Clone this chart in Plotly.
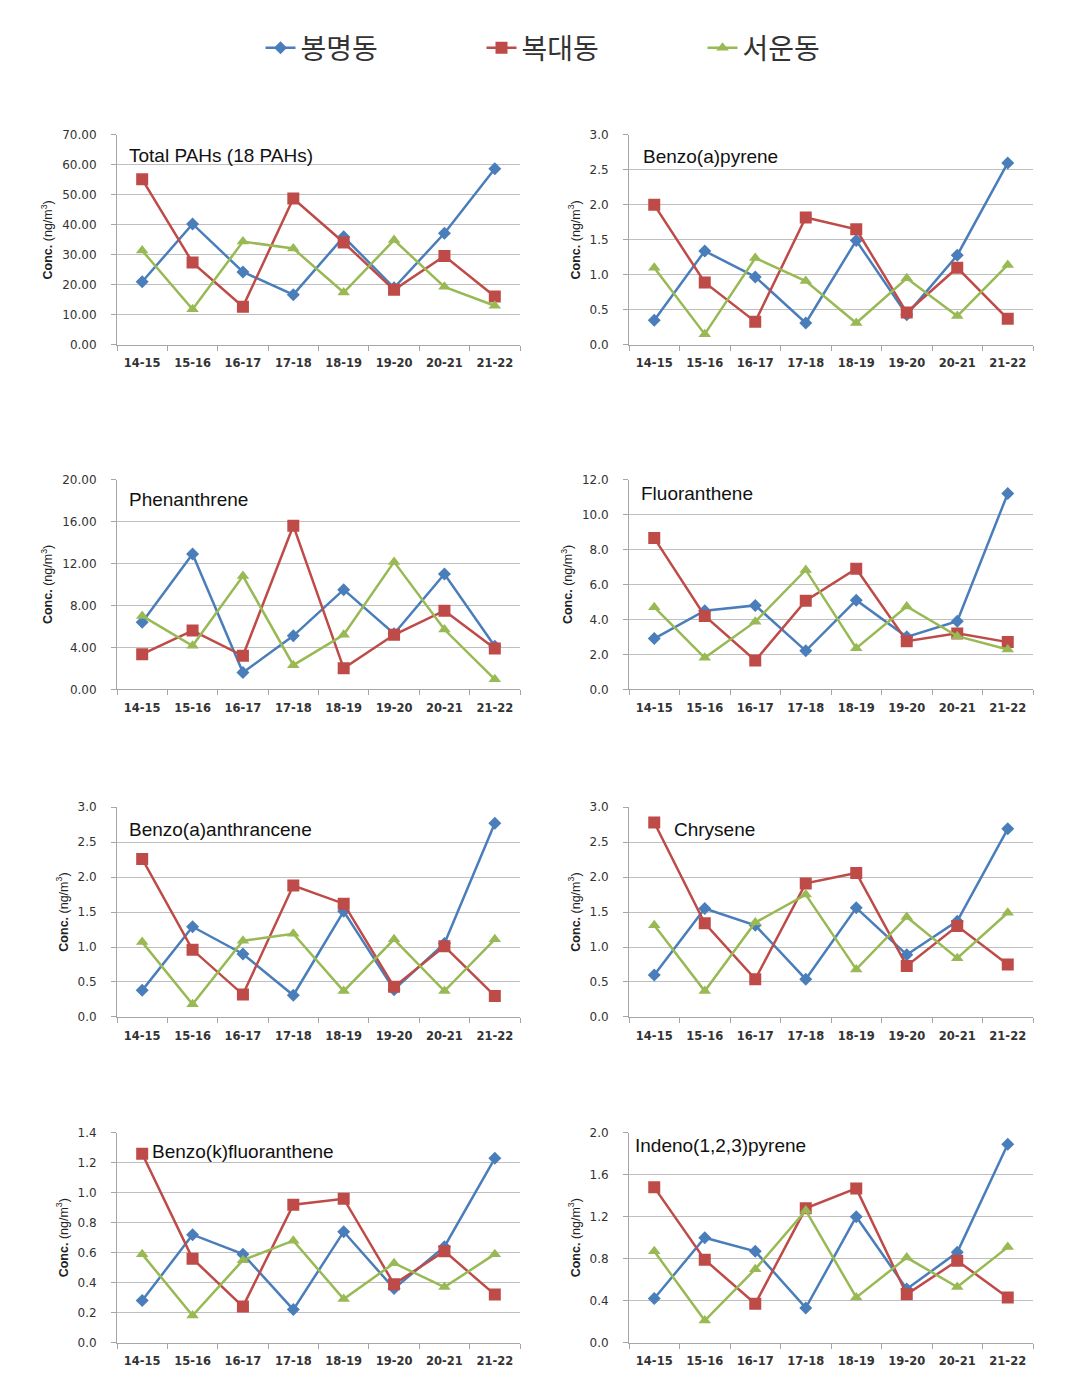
import plotly.graph_objects as go

categories = ["14-15", "15-16", "16-17", "17-18", "18-19", "19-20", "20-21", "21-22"]
sites = ["봉명동", "복대동", "서운동"]

# Total PAHs (18 PAHs)
total_bongmyeong = [21.0, 40.3, 24.3, 16.7, 36.0, 19.0, 37.2, 58.7]
total_bokdae = [55.2, 27.4, 12.7, 48.8, 34.1, 18.3, 29.6, 16.1]
total_seoun = [31.4, 11.8, 34.4, 32.1, 17.4, 34.9, 19.3, 13.0]

# Benzo(a)pyrene
bap_bongmyeong = [0.35, 1.34, 0.97, 0.31, 1.49, 0.43, 1.28, 2.60]
bap_bokdae = [2.00, 0.89, 0.33, 1.82, 1.65, 0.46, 1.10, 0.37]
bap_seoun = [1.10, 0.15, 1.24, 0.91, 0.31, 0.95, 0.41, 1.14]

# Phenanthrene
phe_bongmyeong = [6.4, 12.9, 1.6, 5.1, 9.5, 5.3, 11.0, 4.1]
phe_bokdae = [3.35, 5.6, 3.2, 15.6, 2.0, 5.2, 7.5, 3.9]
phe_seoun = [7.0, 4.15, 10.8, 2.3, 5.2, 12.15, 5.7, 0.95]

# Fluoranthene
flu_bongmyeong = [2.9, 4.5, 4.8, 2.2, 5.1, 3.0, 3.9, 11.2]
flu_bokdae = [8.65, 4.2, 1.65, 5.07, 6.9, 2.75, 3.2, 2.7]
flu_seoun = [4.7, 1.8, 3.87, 6.83, 2.35, 4.74, 3.04, 2.28]

# Benzo(a)anthrancene
baa_bongmyeong = [0.38, 1.29, 0.90, 0.31, 1.51, 0.39, 1.05, 2.77]
baa_bokdae = [2.26, 0.96, 0.32, 1.88, 1.62, 0.43, 1.01, 0.30]
baa_seoun = [1.07, 0.18, 1.09, 1.19, 0.37, 1.11, 0.37, 1.11]

# Chrysene
chr_bongmyeong = [0.60, 1.55, 1.31, 0.54, 1.56, 0.89, 1.37, 2.69]
chr_bokdae = [2.78, 1.34, 0.54, 1.91, 2.06, 0.73, 1.30, 0.75]
chr_seoun = [1.31, 0.37, 1.35, 1.75, 0.68, 1.43, 0.84, 1.49]

# Benzo(k)fluoranthene
bkf_bongmyeong = [0.28, 0.72, 0.59, 0.22, 0.74, 0.36, 0.64, 1.23]
bkf_bokdae = [1.26, 0.56, 0.24, 0.92, 0.96, 0.39, 0.61, 0.32]
bkf_seoun = [0.59, 0.18, 0.55, 0.68, 0.29, 0.53, 0.37, 0.59]

# Indeno(1,2,3)pyrene
ind_bongmyeong = [0.42, 1.00, 0.87, 0.33, 1.20, 0.51, 0.86, 1.89]
ind_bokdae = [1.48, 0.79, 0.37, 1.28, 1.47, 0.46, 0.78, 0.43]
ind_seoun = [0.87, 0.21, 0.70, 1.26, 0.43, 0.81, 0.53, 0.91]

panel_titles = ["Total PAHs (18 PAHs)", "Benzo(a)pyrene", "Phenanthrene", "Fluoranthene",
                "Benzo(a)anthrancene", "Chrysene", "Benzo(k)fluoranthene", "Indeno(1,2,3)pyrene"]
y_max = [70, 3.0, 20, 12, 3.0, 3.0, 1.4, 2.0]
y_step = [10, 0.5, 4, 2, 0.5, 0.5, 0.2, 0.4]
y_format = [".2f", ".1f", ".2f", ".1f", ".1f", ".1f", ".1f", ".1f"]

panels = [
    (total_bongmyeong, total_bokdae, total_seoun),
    (bap_bongmyeong, bap_bokdae, bap_seoun),
    (phe_bongmyeong, phe_bokdae, phe_seoun),
    (flu_bongmyeong, flu_bokdae, flu_seoun),
    (baa_bongmyeong, baa_bokdae, baa_seoun),
    (chr_bongmyeong, chr_bokdae, chr_seoun),
    (bkf_bongmyeong, bkf_bokdae, bkf_seoun),
    (ind_bongmyeong, ind_bokdae, ind_seoun),
]

PAGE_W, PAGE_H = 1068, 1399
OFF = 8  # default body margin of the html page
W, H = PAGE_W - 2 * OFF, PAGE_H - 2 * OFF

def px_x(p):
    return (p - OFF) / W

def px_y(p):
    p = (p - 3) / 0.991  # small vertical correction observed in rendering
    return 1 - (p - OFF) / H

colors = ["#4A7EBB", "#BE4B48", "#98B954"]
symbols = ["diamond", "square", "triangle-up"]
msizes = [10, 12, 11]

col_px = [(117, 520), (629, 1033)]
row_px = [(131, 341), (476, 686), (804, 1014), (1130, 1340)]
title_pos = [(0.025, 0.90), (0.03, 0.895), (0.025, 0.905), (0.025, 0.933),
             (0.025, 0.895), (0.106, 0.895), (0.082, 0.91), (0.01, 0.938)]

fig = go.Figure()
layout = {}
for i, series in enumerate(panels):
    r, c = divmod(i, 2)
    n = "" if i == 0 else str(i + 1)
    xa, ya = "x" + n, "y" + n
    for k in range(3):
        fig.add_trace(go.Scatter(
            x=categories, y=series[k], name=sites[k], mode="lines+markers",
            line=dict(color=colors[k], width=2.5),
            marker=dict(symbol=symbols[k], size=msizes[k], color=colors[k]),
            xaxis=xa, yaxis=ya, showlegend=(i == 0), legendgroup=sites[k]))
    x0, x1 = col_px[c]
    y0, y1 = row_px[r]
    layout["xaxis" + n] = dict(
        domain=[px_x(x0), px_x(x1)], anchor=ya, type="category",
        tickson="boundaries", ticks="outside", ticklen=5, tickcolor="#A6A6A6",
        showline=True, linecolor="#A6A6A6", linewidth=1, showgrid=False,
        tickfont=dict(family="DejaVu Sans", size=11.5, color="#333333", weight="bold"),
        ticklabelstandoff=8, range=[-0.5, 7.5], fixedrange=True)
    layout["yaxis" + n] = dict(
        domain=[px_y(y1), px_y(y0)], anchor=xa, range=[0, y_max[i]],
        dtick=y_step[i], tick0=0, tickformat=y_format[i],
        showline=True, linecolor="#A6A6A6", linewidth=1,
        ticks="outside", ticklen=5, tickcolor="#A6A6A6",
        showgrid=True, gridcolor="#BFBFBF", gridwidth=1, zeroline=False,
        ticklabelstandoff=12,
        tickfont=dict(family="DejaVu Sans", size=12, color="#333333"),
        title=dict(text="<b>Conc.</b> (ng/m<sup>3</sup>)",
                   font=dict(family="Liberation Sans", size=12.5, color="#222222"), standoff=6))
    tx, ty = title_pos[i]
    fig.add_annotation(text=panel_titles[i], xref=xa + " domain", yref=ya + " domain",
                       x=tx, y=ty, xanchor="left", yanchor="middle", showarrow=False,
                       font=dict(family="Liberation Sans", size=19, color="#111111"))

fig.update_layout(
    width=W, height=H, margin=dict(l=0, r=0, t=0, b=0),
    paper_bgcolor="white", plot_bgcolor="white",
    showlegend=True,
    legend=dict(orientation="h", x=px_x(592), xanchor="center", y=px_y(44), yanchor="middle",
                font=dict(family="Noto Sans CJK KR", size=28, color="#333333"),
                entrywidth=176, itemwidth=30, bgcolor="rgba(0,0,0,0)"),
    **layout)

fig.write_html("out.html")
